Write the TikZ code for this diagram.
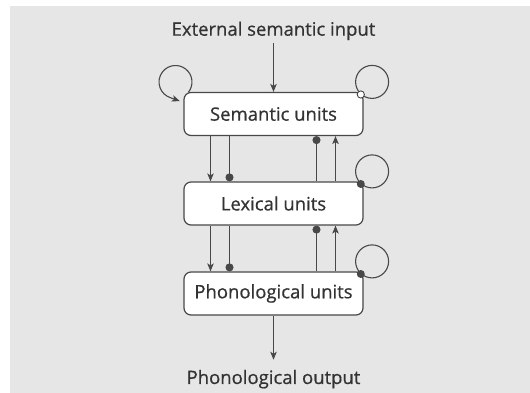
\documentclass[tikz,border=0pt]{standalone}
\usepackage{fontspec}
\setmainfont{Open Sans}[FakeBold=0.6]
\usetikzlibrary{arrows.meta}
\pgfdeclarelayer{bg}
\pgfsetlayers{bg,main}
\definecolor{bggray}{HTML}{E6E6E6}
\definecolor{ink}{HTML}{484848}
\definecolor{txt}{HTML}{333333}
\begin{document}
\begin{tikzpicture}[x=1pt,y=1pt,
  unit/.style={draw=ink, line width=1.2pt, fill=white, rounded corners=7pt,
    minimum width=179pt, minimum height=43pt, inner sep=0pt,
    font=\fontsize{18.5}{21}\selectfont, text=txt},
  lbl/.style={font=\fontsize{18.5}{21}\selectfont, text=txt, inner sep=3pt},
  conn/.style={draw=ink, line width=1.1pt},
  arr/.style={conn, -{Stealth[length=8pt,width=6.5pt,inset=2pt]}},
  inh/.style={conn, -{Circle[length=8pt]}},
  opendot/.style={draw=ink, line width=0.9pt, fill=white},
  filldot/.style={fill=ink},
]
\useasboundingbox (0,0) rectangle (530,393);
\node[unit] (S) at (273.5,279) {Semantic units};
\node[unit] (L) at (273.5,189.5) {Lexical units};
\node[unit] (P) at (273.5,99.5) {Phonological units};
\node[lbl, anchor=base] (in) at (273.5,357.3) {External semantic input};
\node[lbl, anchor=base] (out) at (273.5,9) {Phonological output};

\begin{pgfonlayer}{bg}
  \fill[bggray] (10,0) rectangle (530,387);
  \foreach \n in {S,L,P}
    \draw[conn] ([shift={(8.5pt,10pt)}]\n.north east) circle[radius=16.5pt];
  \draw[arr] ([shift={(-7.9pt,9.9pt)}]S.north west) ++(-39:16.5pt)
    arc[start angle=-39, end angle=252, radius=16.5pt] -- ++(-20:10pt);
\end{pgfonlayer}

\fill[filldot] ([shift={(-2.8pt,-2.6pt)}]L.north east) circle[radius=4pt];
\fill[filldot] ([shift={(-2.8pt,-2.6pt)}]P.north east) circle[radius=4pt];
\draw[opendot] ([shift={(-2.8pt,-2.6pt)}]S.north east) circle[radius=3.6pt];

\draw[arr] (in) -- (S);
\draw[arr, shorten >=7pt] (P) -- (out);

\foreach \a/\b in {S/L, L/P} {
  \draw[arr] ([xshift=-63pt]\a.south) -- ([xshift=-63pt]\b.north);
  \draw[inh] ([xshift=-44pt]\a.south) -- ([xshift=-44pt]\b.north);
  \draw[inh] ([xshift=43pt]\b.north) -- ([xshift=43pt]\a.south);
  \draw[arr] ([xshift=62pt]\b.north) -- ([xshift=62pt]\a.south);
}
\end{tikzpicture}
\end{document}
